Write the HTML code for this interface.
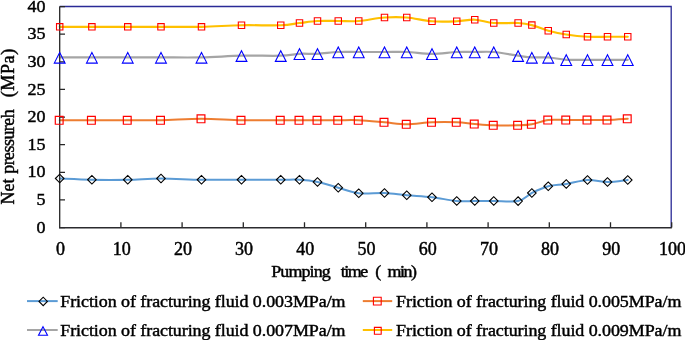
<!DOCTYPE html>
<html><head><meta charset="utf-8"><title>Net pressure vs pumping time</title>
<style>html,body{margin:0;padding:0;background:#fff}body{width:685px;height:340px;overflow:hidden}</style></head>
<body>
<svg width="685" height="340" viewBox="0 0 685 340" style="display:block;font-family:'Liberation Serif','Times New Roman',serif">
<rect width="685" height="340" fill="#fff"/>
<path d="M59.7,6.5H671.2V227.6" fill="none" stroke="#2a2a96" stroke-width="1.3"/>
<path d="M59.70,178.50C65.07,178.71 80.56,179.54 91.90,179.75C103.24,179.96 116.23,179.96 127.75,179.75C139.27,179.54 148.71,178.50 161.00,178.50C173.29,178.50 188.08,179.54 201.50,179.75C214.92,179.96 228.29,179.75 241.50,179.75C254.71,179.75 271.08,179.75 280.75,179.75C290.42,179.75 293.38,179.38 299.50,179.75C305.62,180.12 311.04,180.67 317.50,182.00C323.96,183.33 331.38,185.88 338.25,187.75C345.12,189.62 351.04,192.38 358.75,193.25C366.46,194.12 376.50,192.67 384.50,193.00C392.50,193.33 398.83,194.54 406.75,195.25C414.67,195.96 423.67,196.29 432.00,197.25C440.33,198.21 449.62,200.38 456.75,201.00C463.88,201.62 468.58,201.00 474.75,201.00C480.92,201.00 486.52,200.98 493.75,201.00C500.98,201.02 511.75,202.43 518.10,201.10C524.45,199.77 526.83,195.47 531.85,193.00C536.88,190.53 542.52,187.75 548.25,186.25C553.98,184.75 559.71,185.04 566.25,184.00C572.79,182.96 580.62,180.33 587.50,180.00C594.38,179.67 600.79,182.00 607.50,182.00C614.21,182.00 624.38,180.33 627.75,180.00" fill="none" stroke="#5B9BD5" stroke-width="2" stroke-linecap="round"/>
<path d="M59.70,120.25C65.07,120.25 80.56,120.25 91.90,120.25C103.24,120.25 116.23,120.25 127.75,120.25C139.27,120.25 148.71,120.50 161.00,120.25C173.29,120.00 188.08,118.75 201.50,118.75C214.92,118.75 228.29,120.00 241.50,120.25C254.71,120.50 271.08,120.25 280.75,120.25C290.42,120.25 293.38,120.25 299.50,120.25C305.62,120.25 311.04,120.25 317.50,120.25C323.96,120.25 331.38,120.25 338.25,120.25C345.12,120.25 351.04,119.92 358.75,120.25C366.46,120.58 376.50,121.58 384.50,122.25C392.50,122.92 398.83,124.25 406.75,124.25C414.67,124.25 423.67,122.58 432.00,122.25C440.33,121.92 449.62,121.96 456.75,122.25C463.88,122.54 468.58,123.50 474.75,124.00C480.92,124.50 486.52,125.04 493.75,125.25C500.98,125.46 511.75,125.42 518.10,125.25C524.45,125.08 526.83,125.12 531.85,124.25C536.88,123.38 542.52,120.71 548.25,120.00C553.98,119.29 559.71,120.00 566.25,120.00C572.79,120.00 580.62,120.00 587.50,120.00C594.38,120.00 600.79,120.21 607.50,120.00C614.21,119.79 624.38,118.96 627.75,118.75" fill="none" stroke="#ED7D31" stroke-width="2" stroke-linecap="round"/>
<path d="M59.70,57.40C65.07,57.40 80.56,57.40 91.90,57.40C103.24,57.40 116.23,57.40 127.75,57.40C139.27,57.40 148.71,57.40 161.00,57.40C173.29,57.40 188.08,57.68 201.50,57.40C214.92,57.12 228.29,55.98 241.50,55.70C254.71,55.42 271.08,56.02 280.75,55.70C290.42,55.38 293.38,54.12 299.50,53.80C305.62,53.48 311.04,54.10 317.50,53.80C323.96,53.50 331.38,52.30 338.25,52.00C345.12,51.70 351.04,52.00 358.75,52.00C366.46,52.00 376.50,52.00 384.50,52.00C392.50,52.00 398.83,51.70 406.75,52.00C414.67,52.30 423.67,53.80 432.00,53.80C440.33,53.80 449.62,52.30 456.75,52.00C463.88,51.70 468.58,52.00 474.75,52.00C480.92,52.00 486.52,51.38 493.75,52.00C500.98,52.62 511.75,54.80 518.10,55.70C524.45,56.60 526.83,57.12 531.85,57.40C536.88,57.68 542.52,57.00 548.25,57.40C553.98,57.80 559.71,59.40 566.25,59.80C572.79,60.20 580.62,59.80 587.50,59.80C594.38,59.80 600.79,59.80 607.50,59.80C614.21,59.80 624.38,59.80 627.75,59.80" fill="none" stroke="#A5A5A5" stroke-width="2.2" stroke-linecap="round"/>
<path d="M59.70,26.80C65.07,26.80 80.56,26.80 91.90,26.80C103.24,26.80 116.23,26.80 127.75,26.80C139.27,26.80 148.71,26.80 161.00,26.80C173.29,26.80 188.08,27.06 201.50,26.80C214.92,26.54 228.29,25.51 241.50,25.25C254.71,24.99 271.08,25.62 280.75,25.25C290.42,24.88 293.38,23.71 299.50,23.00C305.62,22.29 311.04,21.33 317.50,21.00C323.96,20.67 331.38,21.00 338.25,21.00C345.12,21.00 351.04,21.58 358.75,21.00C366.46,20.42 376.50,18.08 384.50,17.50C392.50,16.92 398.83,16.88 406.75,17.50C414.67,18.12 423.67,20.62 432.00,21.25C440.33,21.88 449.62,21.50 456.75,21.25C463.88,21.00 468.58,19.46 474.75,19.75C480.92,20.04 486.52,22.46 493.75,23.00C500.98,23.54 511.75,22.65 518.10,23.00C524.45,23.35 526.83,23.81 531.85,25.10C536.88,26.39 542.52,29.18 548.25,30.75C553.98,32.32 559.71,33.50 566.25,34.50C572.79,35.50 580.62,36.38 587.50,36.75C594.38,37.12 600.79,36.75 607.50,36.75C614.21,36.75 624.38,36.75 627.75,36.75" fill="none" stroke="#FFC000" stroke-width="2.2" stroke-linecap="round"/>
<path d="M59.7,6.5V228.2M59.7,227.60h5.3M59.7,199.97h5.3M59.7,172.35h5.3M59.7,144.72h5.3M59.7,117.10h5.3M59.7,89.47h5.3M59.7,61.85h5.3M59.7,34.22h5.3M59.7,6.60h5.3M59.70,227.6v-5.3M120.90,227.6v-5.3M182.10,227.6v-5.3M243.30,227.6v-5.3M304.50,227.6v-5.3M365.70,227.6v-5.3M426.90,227.6v-5.3M488.10,227.6v-5.3M549.30,227.6v-5.3M610.50,227.6v-5.3M671.70,227.6v-5.3" fill="none" stroke="#262626" stroke-width="1.3"/>
<path d="M59.050000000000004,227.75H671.85" fill="none" stroke="#2b2b2e" stroke-width="1.55"/>
<path d="M55.40,178.50L59.70,174.20L64.00,178.50L59.70,182.80ZM87.60,179.75L91.90,175.45L96.20,179.75L91.90,184.05ZM123.45,179.75L127.75,175.45L132.05,179.75L127.75,184.05ZM156.70,178.50L161.00,174.20L165.30,178.50L161.00,182.80ZM197.20,179.75L201.50,175.45L205.80,179.75L201.50,184.05ZM237.20,179.75L241.50,175.45L245.80,179.75L241.50,184.05ZM276.45,179.75L280.75,175.45L285.05,179.75L280.75,184.05ZM295.20,179.75L299.50,175.45L303.80,179.75L299.50,184.05ZM313.20,182.00L317.50,177.70L321.80,182.00L317.50,186.30ZM333.95,187.75L338.25,183.45L342.55,187.75L338.25,192.05ZM354.45,193.25L358.75,188.95L363.05,193.25L358.75,197.55ZM380.20,193.00L384.50,188.70L388.80,193.00L384.50,197.30ZM402.45,195.25L406.75,190.95L411.05,195.25L406.75,199.55ZM427.70,197.25L432.00,192.95L436.30,197.25L432.00,201.55ZM452.45,201.00L456.75,196.70L461.05,201.00L456.75,205.30ZM470.45,201.00L474.75,196.70L479.05,201.00L474.75,205.30ZM489.45,201.00L493.75,196.70L498.05,201.00L493.75,205.30ZM513.80,201.10L518.10,196.80L522.40,201.10L518.10,205.40ZM527.55,193.00L531.85,188.70L536.15,193.00L531.85,197.30ZM543.95,186.25L548.25,181.95L552.55,186.25L548.25,190.55ZM561.95,184.00L566.25,179.70L570.55,184.00L566.25,188.30ZM583.20,180.00L587.50,175.70L591.80,180.00L587.50,184.30ZM603.20,182.00L607.50,177.70L611.80,182.00L607.50,186.30ZM623.45,180.00L627.75,175.70L632.05,180.00L627.75,184.30Z" fill="none" stroke="#000" stroke-width="1.1"/>
<path d="M55.30,116.45h7.8v7.8h-7.8ZM87.50,116.45h7.8v7.8h-7.8ZM123.35,116.45h7.8v7.8h-7.8ZM156.60,116.45h7.8v7.8h-7.8ZM197.10,114.95h7.8v7.8h-7.8ZM237.10,116.45h7.8v7.8h-7.8ZM276.35,116.45h7.8v7.8h-7.8ZM295.10,116.45h7.8v7.8h-7.8ZM313.10,116.45h7.8v7.8h-7.8ZM333.85,116.45h7.8v7.8h-7.8ZM354.35,116.45h7.8v7.8h-7.8ZM380.10,118.45h7.8v7.8h-7.8ZM402.35,120.45h7.8v7.8h-7.8ZM427.60,118.45h7.8v7.8h-7.8ZM452.35,118.45h7.8v7.8h-7.8ZM470.35,120.20h7.8v7.8h-7.8ZM489.35,121.45h7.8v7.8h-7.8ZM513.70,121.45h7.8v7.8h-7.8ZM527.45,120.45h7.8v7.8h-7.8ZM543.85,116.20h7.8v7.8h-7.8ZM561.85,116.20h7.8v7.8h-7.8ZM583.10,116.20h7.8v7.8h-7.8ZM603.10,116.20h7.8v7.8h-7.8ZM623.35,114.95h7.8v7.8h-7.8Z" fill="none" stroke="#f00" stroke-width="1.2"/>
<path d="M59.70,52.40L65.10,63.10L54.30,63.10ZM91.90,52.40L97.30,63.10L86.50,63.10ZM127.75,52.40L133.15,63.10L122.35,63.10ZM161.00,52.40L166.40,63.10L155.60,63.10ZM201.50,52.40L206.90,63.10L196.10,63.10ZM241.50,50.70L246.90,61.40L236.10,61.40ZM280.75,50.70L286.15,61.40L275.35,61.40ZM299.50,48.80L304.90,59.50L294.10,59.50ZM317.50,48.80L322.90,59.50L312.10,59.50ZM338.25,47.00L343.65,57.70L332.85,57.70ZM358.75,47.00L364.15,57.70L353.35,57.70ZM384.50,47.00L389.90,57.70L379.10,57.70ZM406.75,47.00L412.15,57.70L401.35,57.70ZM432.00,48.80L437.40,59.50L426.60,59.50ZM456.75,47.00L462.15,57.70L451.35,57.70ZM474.75,47.00L480.15,57.70L469.35,57.70ZM493.75,47.00L499.15,57.70L488.35,57.70ZM518.10,50.70L523.50,61.40L512.70,61.40ZM531.85,52.40L537.25,63.10L526.45,63.10ZM548.25,52.40L553.65,63.10L542.85,63.10ZM566.25,54.80L571.65,65.50L560.85,65.50ZM587.50,54.80L592.90,65.50L582.10,65.50ZM607.50,54.80L612.90,65.50L602.10,65.50ZM627.75,54.80L633.15,65.50L622.35,65.50Z" fill="none" stroke="#00f" stroke-width="1.1"/>
<path d="M56.50,23.60h6.4v6.4h-6.4ZM88.70,23.60h6.4v6.4h-6.4ZM124.55,23.60h6.4v6.4h-6.4ZM157.80,23.60h6.4v6.4h-6.4ZM198.30,23.60h6.4v6.4h-6.4ZM238.30,22.05h6.4v6.4h-6.4ZM277.55,22.05h6.4v6.4h-6.4ZM296.30,19.80h6.4v6.4h-6.4ZM314.30,17.80h6.4v6.4h-6.4ZM335.05,17.80h6.4v6.4h-6.4ZM355.55,17.80h6.4v6.4h-6.4ZM381.30,14.30h6.4v6.4h-6.4ZM403.55,14.30h6.4v6.4h-6.4ZM428.80,18.05h6.4v6.4h-6.4ZM453.55,18.05h6.4v6.4h-6.4ZM471.55,16.55h6.4v6.4h-6.4ZM490.55,19.80h6.4v6.4h-6.4ZM514.90,19.80h6.4v6.4h-6.4ZM528.65,21.90h6.4v6.4h-6.4ZM545.05,27.55h6.4v6.4h-6.4ZM563.05,31.30h6.4v6.4h-6.4ZM584.30,33.55h6.4v6.4h-6.4ZM604.30,33.55h6.4v6.4h-6.4ZM624.55,33.55h6.4v6.4h-6.4Z" fill="none" stroke="#f00" stroke-width="1.1"/>
<g font-size="17.4" fill="#000" stroke="#000" stroke-width="0.45">
<text x="36.6" y="232.7" textLength="9" lengthAdjust="spacingAndGlyphs">0</text>
<text x="36.6" y="205.1" textLength="9" lengthAdjust="spacingAndGlyphs">5</text>
<text x="27.6" y="177.4" textLength="18" lengthAdjust="spacingAndGlyphs">10</text>
<text x="27.6" y="149.8" textLength="18" lengthAdjust="spacingAndGlyphs">15</text>
<text x="27.6" y="122.2" textLength="18" lengthAdjust="spacingAndGlyphs">20</text>
<text x="27.6" y="94.6" textLength="18" lengthAdjust="spacingAndGlyphs">25</text>
<text x="27.6" y="66.9" textLength="18" lengthAdjust="spacingAndGlyphs">30</text>
<text x="27.6" y="39.3" textLength="18" lengthAdjust="spacingAndGlyphs">35</text>
<text x="27.6" y="11.7" textLength="18" lengthAdjust="spacingAndGlyphs">40</text>
</g>
<g font-size="17.9" fill="#000" stroke="#000" stroke-width="0.45">
<text x="56.0" y="254.7" textLength="9" lengthAdjust="spacingAndGlyphs">0</text>
<text x="112.7" y="254.7" textLength="18" lengthAdjust="spacingAndGlyphs">10</text>
<text x="173.9" y="254.7" textLength="18" lengthAdjust="spacingAndGlyphs">20</text>
<text x="235.1" y="254.7" textLength="18" lengthAdjust="spacingAndGlyphs">30</text>
<text x="296.3" y="254.7" textLength="18" lengthAdjust="spacingAndGlyphs">40</text>
<text x="357.5" y="254.7" textLength="18" lengthAdjust="spacingAndGlyphs">50</text>
<text x="418.7" y="254.7" textLength="18" lengthAdjust="spacingAndGlyphs">60</text>
<text x="479.9" y="254.7" textLength="18" lengthAdjust="spacingAndGlyphs">70</text>
<text x="541.1" y="254.7" textLength="18" lengthAdjust="spacingAndGlyphs">80</text>
<text x="602.3" y="254.7" textLength="18" lengthAdjust="spacingAndGlyphs">90</text>
<text x="659.0" y="254.7" textLength="27" lengthAdjust="spacingAndGlyphs">100</text>
</g>
<g id="xt">
<text font-size="16.8" transform="translate(271.3,276.7) scale(1.07,1)" textLength="55.51" lengthAdjust="spacing" stroke="#000" stroke-width="0.45">Pumping</text>
<text font-size="16.8" transform="translate(340.7,276.7) scale(1.07,1)" textLength="25.79" lengthAdjust="spacing" stroke="#000" stroke-width="0.45">time</text>
<text font-size="16.8" transform="translate(375.2,276.7) scale(1.07,1)" textLength="5.61" lengthAdjust="spacing" stroke="#000" stroke-width="0.45">(</text>
<text font-size="16.8" transform="translate(387.5,276.7) scale(1.07,1)" textLength="27.57" lengthAdjust="spacing" stroke="#000" stroke-width="0.45">min)</text>
</g>
<g id="yt" transform="translate(13.7,0) rotate(-90)">
<text font-size="18" x="-204.6" y="0" textLength="26.2" lengthAdjust="spacing" stroke="#000" stroke-width="0.45">Net</text>
<text font-size="18" x="-173.8" y="0" textLength="64.5" lengthAdjust="spacing" stroke="#000" stroke-width="0.45">pressureh</text>
<text font-size="18" x="-97.3" y="0" textLength="48.5" lengthAdjust="spacing" stroke="#000" stroke-width="0.45">(MPa)</text>
</g>
<path d="M27,301.1h30.7" stroke="#5B9BD5" stroke-width="2" fill="none"/><path d="M39.00,301.40L43.20,297.20L47.40,301.40L43.20,305.60Z" fill="none" stroke="#000" stroke-width="1.1"/><text font-size="17.2" transform="translate(60.3,306.9) scale(1.045,1)" textLength="273.01" lengthAdjust="spacing" stroke="#000" stroke-width="0.45">Friction of fracturing fluid 0.003MPa/m</text>
<path d="M362.8,301.1h29.4" stroke="#ED7D31" stroke-width="2" fill="none"/><path d="M373.40,297.20h7.8v7.8h-7.8Z" fill="none" stroke="#f00" stroke-width="1.1"/><text font-size="17.2" transform="translate(396.1,306.9) scale(1.045,1)" textLength="273.01" lengthAdjust="spacing" stroke="#000" stroke-width="0.45">Friction of fracturing fluid 0.005MPa/m</text>
<path d="M27,330h30.7" stroke="#A5A5A5" stroke-width="2" fill="none"/><path d="M43.00,326.70L47.50,335.30L38.50,335.30Z" fill="none" stroke="#00f" stroke-width="1.1"/><text font-size="17.2" transform="translate(60.3,335.8) scale(1.045,1)" textLength="273.01" lengthAdjust="spacing" stroke="#000" stroke-width="0.45">Friction of fracturing fluid 0.007MPa/m</text>
<path d="M362.8,330h29.4" stroke="#FFC000" stroke-width="2" fill="none"/><path d="M374.40,327.40h6.8v6.8h-6.8Z" fill="none" stroke="#f00" stroke-width="1.1"/><text font-size="17.2" transform="translate(396.1,335.8) scale(1.045,1)" textLength="273.01" lengthAdjust="spacing" stroke="#000" stroke-width="0.45">Friction of fracturing fluid 0.009MPa/m</text>
</svg>
</body></html>
